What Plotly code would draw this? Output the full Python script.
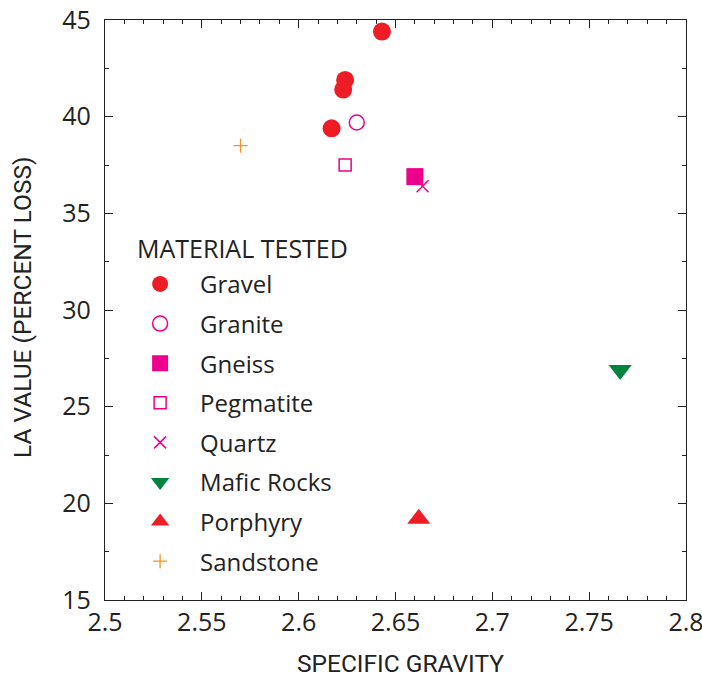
import plotly.graph_objects as go

gravel_x = [2.643, 2.624, 2.623, 2.617]
gravel_y = [44.4, 41.9, 41.4, 39.4]
granite_x = [2.630]
granite_y = [39.7]
gneiss_x = [2.660]
gneiss_y = [36.9]
pegmatite_x = [2.624]
pegmatite_y = [37.5]
quartz_x = [2.664]
quartz_y = [36.4]
mafic_x = [2.766]
mafic_y = [26.9]
porphyry_x = [2.662]
porphyry_y = [19.2]
sandstone_x = [2.570]
sandstone_y = [38.5]

RED = "#ee1c25"
MAG = "#ec008c"
GREEN = "#00843d"
ORANGE = "#f7941d"

series = [
    ("Gravel", gravel_x, gravel_y, "circle", 18, RED, RED, 0),
    ("Granite", granite_x, granite_y, "circle-open", 15, MAG, MAG, 1.5),
    ("Gneiss", gneiss_x, gneiss_y, "square", 17, MAG, MAG, 0),
    ("Pegmatite", pegmatite_x, pegmatite_y, "square-open", 12, MAG, MAG, 1.5),
    ("Quartz", quartz_x, quartz_y, "x-thin-open", 12, MAG, MAG, 1.5),
    ("Mafic Rocks", mafic_x, mafic_y, "triangle-down", 20, GREEN, GREEN, 0),
    ("Porphyry", porphyry_x, porphyry_y, "triangle-up", 20, RED, RED, 0),
    ("Sandstone", sandstone_x, sandstone_y, "cross-thin-open", 10, ORANGE, ORANGE, 1.3),
]

fig = go.Figure()
for i, (name, xs, ys, sym, size, col, lcol, lw) in enumerate(series):
    fig.add_trace(go.Scatter(
        x=xs, y=ys, mode="markers", name=name, legendgroup=name,
        marker=dict(symbol=sym, size=size, color=col,
                    line=dict(color=lcol, width=lw)),
    ))

TICKFONT = dict(family="Open Sans, Noto Sans, sans-serif", size=25, color="#222")
TITLEFONT = dict(family="Liberation Sans Narrow, Roboto, sans-serif", size=24.5, color="#222")
LEGFONT = dict(family="Open Sans, Noto Sans, sans-serif", size=24, color="#222")

axis_common = dict(
    showline=True, linecolor="#222", linewidth=1.2, mirror="ticks",
    ticks="inside", ticklen=8, tickcolor="#222", tickwidth=1,
    showgrid=False, zeroline=False, automargin=False,
    tickfont=TICKFONT, ticklabeloverflow="allow",
)

fig.update_xaxes(
    range=[2.5, 2.8], tickvals=[2.5, 2.55, 2.6, 2.65, 2.7, 2.75, 2.8],
    ticktext=["2.5", "2.55", "2.6", "2.65", "2.7", "2.75", "2.8"],
    minor=dict(dtick=0.01, ticks="inside", ticklen=4, tickcolor="#222"),
    **axis_common,
)
fig.update_yaxes(
    range=[15, 45], tickvals=[15, 20, 25, 30, 35, 40, 45],
    minor=dict(dtick=2.5, ticks="inside", ticklen=4, tickcolor="#222"),
    ticklabelstandoff=8,
    **axis_common,
)

# axis titles
fig.add_annotation(
    text="SPECIFIC GRAVITY", xref="paper", yref="paper",
    x=(400 - 105) / 581, y=-(663 - 600) / 580, xanchor="center", yanchor="middle",
    showarrow=False, font=TITLEFONT,
)
fig.add_annotation(
    text="LA VALUE (PERCENT LOSS)", xref="paper", yref="paper",
    x=-(105 - 23) / 581, y=1 - (307 - 20) / 580, xanchor="center", yanchor="middle",
    textangle=-90, showarrow=False, font=TITLEFONT,
)

fig.add_annotation(
    text="MATERIAL TESTED", xref="paper", yref="paper",
    x=(135 - 105) / 581, y=0.607, xanchor="left", yanchor="middle",
    showarrow=False, font=dict(family="Open Sans, Noto Sans, sans-serif", size=25, color="#222"),
)

fig.update_layout(
    width=702, height=677,
    margin=dict(l=105, r=16, t=20, b=77),
    plot_bgcolor="white", paper_bgcolor="white",
    showlegend=True,
    legend=dict(
        x=0.026, y=0.583, xanchor="left", yanchor="top",
        font=LEGFONT,
        traceorder="grouped", tracegroupgap=5.4,
        bgcolor="rgba(0,0,0,0)", itemwidth=70,
    ),
)

fig.write_html("out.html", config={"displayModeBar": False},
               post_script="document.body.style.margin='0';")
